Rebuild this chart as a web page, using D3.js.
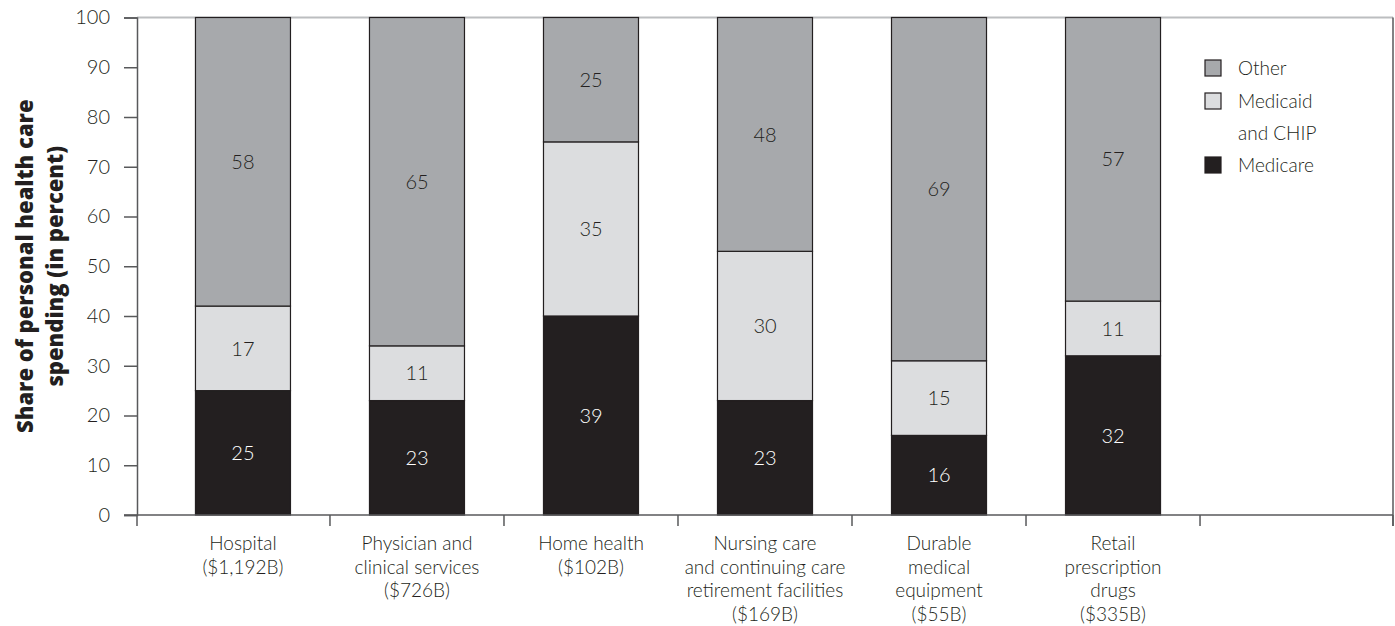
<!DOCTYPE html>
<html>
<head>
<meta charset="utf-8">
<script src="https://cdn.jsdelivr.net/npm/d3@7"></script>
<style>
  html, body { margin: 0; padding: 0; background: #fff; }
  svg { display: block; font-family: Lato, "Open Sans", sans-serif; }
</style>
</head>
<body>
<svg id="chart" width="1395" height="626"></svg>
<script>
// ---------- data ----------
const categories = ["Hospital", "Physician", "Home health", "Nursing care", "Durable", "Retail", "blank"];
const categoryLines = [
  ["Hospital", "($1,192B)"],
  ["Physician and", "clinical services", "($726B)"],
  ["Home health", "($102B)"],
  ["Nursing care", "and continuing care", "retirement facilities", "($169B)"],
  ["Durable", "medical", "equipment", "($55B)"],
  ["Retail", "prescription", "drugs", "($335B)"],
  []
];
// segment heights as drawn (percent)
const medicare = [25, 23, 40, 23, 16, 32];
const medicaid = [17, 11, 35, 30, 15, 11];
const other    = [58, 66, 25, 47, 69, 57];
// printed labels (rounded values shown in the chart)
const medicareLabels = [25, 23, 39, 23, 16, 32];
const medicaidLabels = [17, 11, 35, 30, 15, 11];
const otherLabels    = [58, 65, 25, 48, 69, 57];
const yTicks = [0, 10, 20, 30, 40, 50, 60, 70, 80, 90, 100];
const seriesKeys = ["medicare", "medicaid", "other"];
const legendItems = [
  { key: "other", lines: ["Other"] },
  { key: "medicaid", lines: ["Medicaid", "and CHIP"] },
  { key: "medicare", lines: ["Medicare"] }
];

// ---------- styles ----------
const colors = { medicare: "#231f20", medicaid: "#dcdddf", other: "#a7a9ac" };
const labelColors = { medicare: "#ffffff", medicaid: "#231f20", other: "#231f20" };
const axisColor = "#58595b";
const textColor = "#231f20";

const rows = medicare.map((m, i) => ({
  cat: categories[i], medicare: m, medicaid: medicaid[i], other: other[i],
  labels: { medicare: medicareLabels[i], medicaid: medicaidLabels[i], other: otherLabels[i] }
}));

const svg = d3.select("#chart");
const pLeft = 137, pRight = 1393, pTop = 17.5, pBottom = 515;

const x = d3.scaleBand().domain(categories).range([pLeft, pRight])
  .paddingInner(0.454).paddingOuter(0.336);
const y = d3.scaleLinear().domain([0, 100]).range([pBottom, pTop]);

// frame: top & right
svg.append("line").attr("x1", pLeft).attr("x2", pRight).attr("y1", pTop).attr("y2", pTop)
  .attr("stroke", "#bcbec0").attr("stroke-width", 2);
svg.append("line").attr("x1", pRight).attr("x2", pRight).attr("y1", pTop).attr("y2", pBottom + 11)
  .attr("stroke", axisColor).attr("stroke-width", 1.5);

// stacked bars
const stack = d3.stack().keys(seriesKeys);
const stacked = stack(rows);
const layers = svg.append("g").selectAll("g").data(stacked).join("g")
  .attr("fill", d => colors[d.key]);
layers.selectAll("rect").data(d => d.map(p => ({ p, key: d.key }))).join("rect")
  .attr("x", d => x(d.p.data.cat))
  .attr("width", x.bandwidth())
  .attr("y", d => y(d.p[1]))
  .attr("height", d => y(d.p[0]) - y(d.p[1]))
  .attr("stroke", "#231f20").attr("stroke-width", 1.2);

// value labels
layers.selectAll("text").data(d => d.map(p => ({ p, key: d.key }))).join("text")
  .attr("x", d => x(d.p.data.cat) + x.bandwidth() / 2)
  .attr("y", d => y((d.p[0] + d.p[1]) / 2))
  .attr("dy", "0.36em")
  .attr("text-anchor", "middle")
  .attr("fill", d => labelColors[d.key])
  .attr("font-size", 20).attr("font-weight", 300)
  .text(d => d.p.data.labels[d.key]);

// y axis
const yAxis = d3.axisLeft(y).tickValues(yTicks).tickSize(13).tickPadding(14);
const gy = svg.append("g").attr("transform", `translate(${pLeft},0)`).call(yAxis);
gy.attr("font-family", null);
gy.select(".domain").attr("stroke", axisColor).attr("stroke-width", 1.5);
gy.selectAll(".tick line").attr("stroke", axisColor).attr("stroke-width", 1.5);
gy.selectAll(".tick text").attr("fill", textColor).attr("font-size", 20).attr("font-weight", 300);

// x axis line
svg.append("line").attr("x1", pLeft - 13).attr("x2", pRight).attr("y1", pBottom).attr("y2", pBottom)
  .attr("stroke", axisColor).attr("stroke-width", 1.5);
// x ticks at band boundaries
const step = x.step();
const boundaries = [pLeft].concat(categories.slice(1).map(c => x(c) - step * x.paddingInner() / 2)).concat([pRight]);
svg.append("g").selectAll("line").data(boundaries).join("line")
  .attr("x1", d => d).attr("x2", d => d).attr("y1", pBottom).attr("y2", pBottom + 11)
  .attr("stroke", axisColor).attr("stroke-width", 1.5);

// category labels
const catG = svg.append("g");
categories.forEach((c, i) => {
  const t = catG.append("text")
    .attr("x", x(c) + x.bandwidth() / 2)
    .attr("y", 550)
    .attr("text-anchor", "middle")
    .attr("fill", textColor).attr("font-size", 19).attr("font-weight", 300);
  categoryLines[i].forEach((line, j) => {
    t.append("tspan").attr("x", x(c) + x.bandwidth() / 2).attr("y", 550 + j * 23.5).text(line);
  });
});

// y title
const yt = svg.append("text")
  .attr("transform", `translate(40, ${(pTop + pBottom) / 2}) rotate(-90)`)
  .attr("text-anchor", "middle")
  .attr("fill", textColor)
  .style("font-family", "'Open Sans', sans-serif")
  .style("font-size", "22px")
  .style("font-weight", 800);
yt.append("tspan").attr("x", 0).attr("y", -7).text("Share of personal health care");
yt.append("tspan").attr("x", 0).attr("y", 23).text("spending (in percent)");

// legend
const lg = svg.append("g");
let ly = 68;
legendItems.forEach((item, i) => {
  lg.append("rect").attr("x", 1205).attr("y", ly - 8).attr("width", 16).attr("height", 16)
    .attr("fill", colors[item.key]).attr("stroke", "#231f20").attr("stroke-width", 1.2);
  item.lines.forEach((line, j) => {
    lg.append("text").attr("x", 1238).attr("y", ly + j * 32).attr("dy", "0.36em")
      .attr("fill", textColor).attr("font-size", 19).attr("font-weight", 300).text(line);
  });
  ly += 32 * item.lines.length + (i === 0 ? 1 : 0);
});
</script>
</body>
</html>
